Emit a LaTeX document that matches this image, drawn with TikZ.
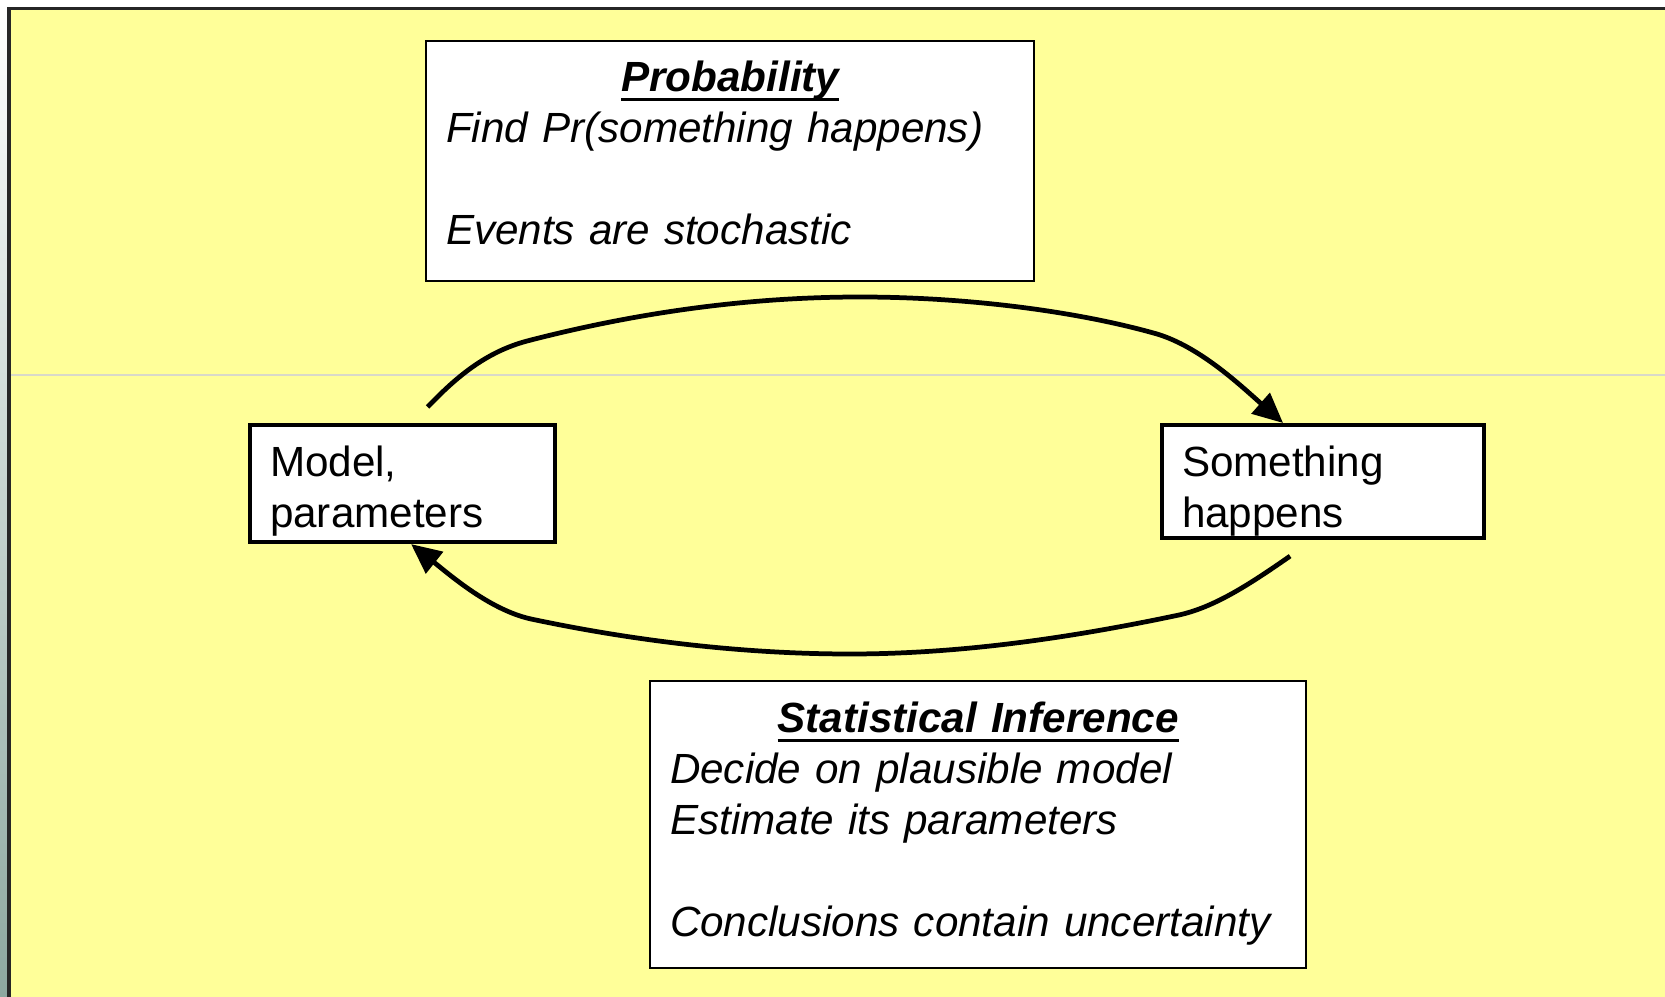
\documentclass[tikz,border=0pt]{standalone}
\usepackage{fontspec}
\setmainfont{Liberation Sans}
\usetikzlibrary{arrows.meta}
\definecolor{slideyellow}{HTML}{FFFF99}
\definecolor{stripblue}{HTML}{AEB9DC}
\definecolor{stripgreen}{HTML}{8DA8A0}
\definecolor{faintline}{HTML}{D9D9C9}
\newcommand\ulhead[1]{\setbox0\hbox{#1}\rlap{\rule[-0.24em]{\wd0}{0.075em}}\box0}

\begin{document}
\begin{tikzpicture}[
  x=0.01cm, y=-0.01cm,
  note/.style={draw=black, line width=0.6pt, fill=white, anchor=north west,
    inner xsep=0.2cm, inner ysep=0pt, align=left,
    font=\fontsize{12pt}{14.5pt}\selectfont\itshape},
  stage/.style={draw=black, line width=1.15pt, fill=white, anchor=north west,
    inner xsep=0.2cm, inner ysep=0pt, align=left,
    font=\fontsize{12pt}{14.5pt}\selectfont},
  cycle/.style={line width=1.35pt, -{Triangle[length=0.3cm, width=0.27cm]}}
]

% slide background
\useasboundingbox (0,0) rectangle (1665,997);
\fill[white] (0,0) rectangle (1665,997);
\shade[top color=white, middle color=stripblue, bottom color=stripgreen] (0,0) rectangle (9,997);
\fill[slideyellow] (9,9) rectangle (1665,997);
\draw[faintline, line width=0.3pt] (11,375) -- (1665,375);
\draw[line width=0.03cm, black!85] (9,997) -- (9,9) -- (1665,9);

\node[note, text width=5.68cm, text height=0.5cm, text depth=1.9cm] (prob) at (425,40)
  {\makebox[\hsize]{\bfseries\ulhead{Probability}}\\
   Find Pr(something happens)\\[14.5pt]
   Events are stochastic};

\node[stage, text width=2.65cm, text height=0.51cm, text depth=0.66cm] (model) at (248,423)
  {Model,\\ parameters};

\node[stage, text width=2.82cm, text height=0.51cm, text depth=0.62cm] (event) at (1160,423)
  {Something\\ happens};

\node[note, text width=6.16cm, text height=0.51cm, text depth=2.36cm] (infer) at (649,680)
  {\makebox[\hsize]{\bfseries\ulhead{Statistical Inference}}\\
   Decide on plausible model\\
   Estimate its parameters\\[14.5pt]
   Conclusions contain uncertainty};

\draw[cycle] ([shift={(25,-16)}]model.north)
  .. controls (460,373) and (490,350) .. (531,340)
  .. controls (640,312) and (750,297) .. (860,297)
  .. controls (970,297) and (1080,312) .. (1157,334)
  .. controls (1200,347) and (1240,385) .. ([xshift=1.23cm]event.north west);

\draw[cycle] ([shift={(-33,16)}]event.south)
  .. controls (1250,584) and (1215,607) .. (1179,615)
  .. controls (1070,638) and (960,654) .. (850,654)
  .. controls (740,654) and (630,640) .. (531,619)
  .. controls (490,610) and (450,575) .. ([xshift=1.63cm]model.south west);

\end{tikzpicture}
\end{document}
